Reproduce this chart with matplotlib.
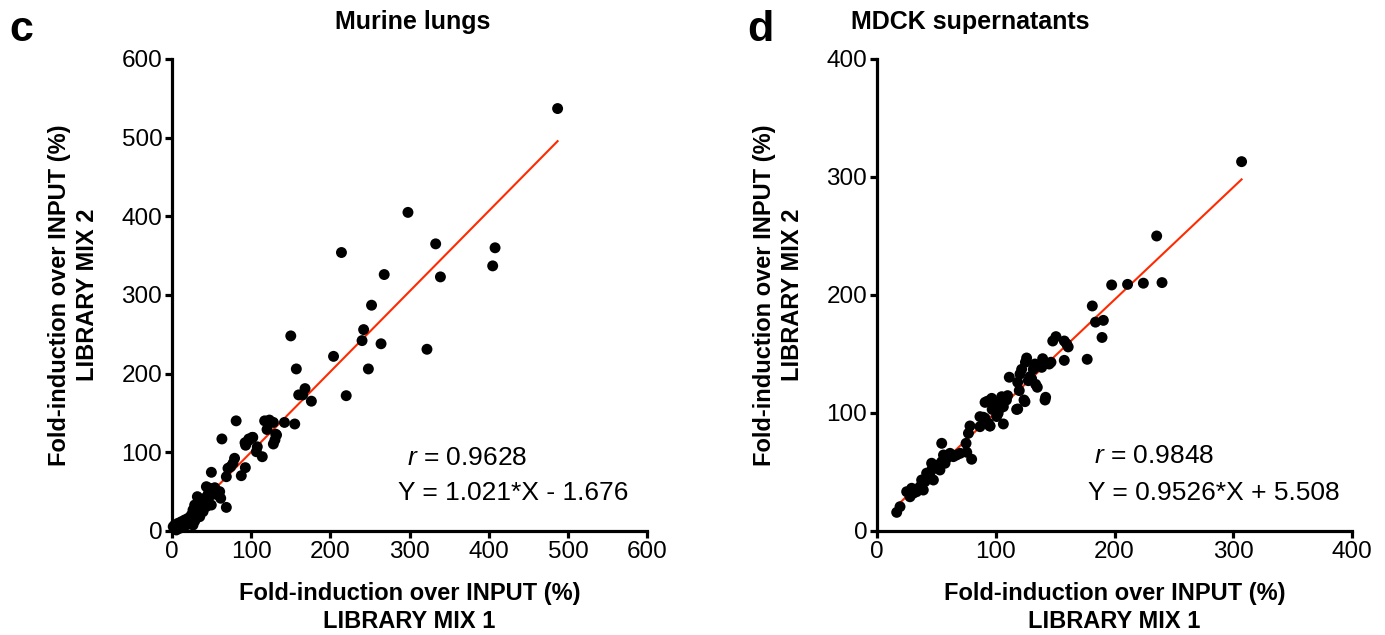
import numpy as np
import matplotlib
matplotlib.use("Agg")
import matplotlib.pyplot as plt

plt.rcParams['font.family'] = ['Liberation Sans', 'DejaVu Sans']
plt.rcParams['mathtext.fontset'] = 'custom'
plt.rcParams['mathtext.it'] = 'Liberation Sans:italic'
plt.rcParams['mathtext.rm'] = 'Liberation Sans'

# panel c - murine lungs (library mix 1 vs library mix 2)
lung_x = [487, 298, 214, 333, 408, 405, 339, 268, 252, 242, 240, 264, 322, 248, 204,
          150, 157, 168, 160, 165, 176, 220, 81, 117, 123, 128, 120, 142, 155, 132,
          63, 97, 102, 131, 93, 106.5, 114, 107.7, 79, 77, 70.7, 74, 68.6, 92.6, 87.5,
          49.7, 43.4, 47.6, 54, 60.2, 58, 61.5, 68.6, 32, 37, 41.3, 45.5, 49.6,
          28.6, 32.8, 37, 26.5, 30.7, 35, 39.2, 43.3, 49.6, 45.5,
          24.4, 20.2, 16, 11.8, 7.6, 3.4, 1.5, 22.4, 26.5, 28.7, 13.9, 18, 9.7, 5.4,
          101.5, 96.4, 92.2, 130, 128]
lung_y = [537, 405, 354, 365, 360, 337, 323, 326, 287, 256, 242, 238, 231, 206, 222,
          248, 206, 181, 173, 173, 165, 172, 140, 140, 141, 138, 129, 138, 136, 122,
          117, 117, 119, 123, 109, 100.8, 94.4, 107, 92.4, 86, 79.7, 81.7, 69, 80.5, 70.3,
          74.6, 56.3, 54.3, 55, 50, 45.8, 41.6, 30, 43.6, 39.4, 41.6, 46.6, 45.8,
          33, 29, 31, 26.7, 22.5, 18.2, 24.6, 31, 33, 37.2,
          20.3, 16.1, 14, 11.8, 9.8, 7.6, 5.5, 9.8, 7.6, 12.7, 5.5, 7.6, 3.4, 1.3,
          119, 114.8, 112.2, 115.7, 110.6]
lung_slope, lung_icpt = 1.021, -1.676

# panel d - MDCK supernatants
mdck_x = [307, 235.5, 240, 197.6, 211, 224.3, 181.3, 184, 190.6, 189.5, 177, 157.7, 148,
          150.7, 157.7, 159.7, 161, 146.5, 145, 139.5, 138.7, 126, 125, 133, 131.6, 121.8,
          120.4, 128.8, 130.2, 127.4, 133.6, 135, 111.4, 118.5, 119.8, 123.8, 142, 110,
          105, 96.6, 91, 98, 102, 99.4, 103.6, 106.4, 102, 100.8, 118.5, 106.4, 89.5, 95,
          86.7, 16.6, 19.4, 25, 29.2, 27.8, 30.6, 33.4, 36.2, 37.6, 40.4, 39, 41.8, 44.6,
          46, 47.5, 46, 48.8, 51.7, 53, 54.5, 57.3, 58.7, 61.5, 64.3, 54.5, 56, 67, 70,
          75, 75.6, 79.7, 77, 78.3, 86.7, 91, 93.8, 95.2, 117.6, 124.6, 141.5, 93, 109, 97]
mdck_y = [313, 250, 210.5, 208.5, 209, 210, 190.7, 177, 178.5, 164, 145.5, 144.6, 161,
          164.7, 161, 158.5, 156, 143, 141.5, 146, 138.7, 146.6, 143, 141.5, 137, 137,
          133, 130.8, 129, 127.4, 124.3, 121.8, 130.3, 126, 119, 111, 113.3, 114.7,
          113.8, 112.4, 109, 108.7, 108.2, 104.5, 104, 105.3, 99.7, 97, 103.4, 90.7, 96.4, 89,
          88.4, 15.8, 20.6, 33.3, 36.2, 29, 32, 33.3, 37.5, 43.2, 41.8, 34.7, 49, 46.6,
          51.7, 43.2, 57.4, 54.5, 56, 51.7, 58.7, 57.4, 61.6, 65.8, 63, 74.3, 64.4, 64.4, 65.8,
          74.3, 66.7, 60.8, 82.8, 89, 96.9, 95.5, 91.3, 89, 103, 109.6, 111, 110, 111, 103]
mdck_slope, mdck_icpt = 0.9526, 5.508

xlabel = "Fold-induction over INPUT (%)\nLIBRARY MIX 1"
ylabel = "Fold-induction over INPUT (%)\nLIBRARY MIX 2"

fig = plt.figure(figsize=(13.85, 6.35), dpi=100)
ax1 = fig.add_axes([0.1242, 0.1638, 0.343, 0.7433])
ax2 = fig.add_axes([0.6332, 0.1638, 0.343, 0.7433])


def panel(ax, x, y, slope, icpt, lim, step, rtxt, eqtxt, rpos, eqpos):
    x = np.array(x)
    y = np.array(y)
    ax.scatter(x, y, s=62, c='black', edgecolors='none', zorder=3, clip_on=False)
    xl = np.array([x.min(), x.max()])
    ax.plot(xl, slope * xl + icpt, color='#ff2a00', lw=1.5, zorder=2)
    ax.set_xlim(0, lim)
    ax.set_ylim(0, lim)
    ax.set_xticks(np.arange(0, lim + 1, step))
    ax.set_yticks(np.arange(0, lim + 1, step))
    for s in ['top', 'right']:
        ax.spines[s].set_visible(False)
    for s in ['left', 'bottom']:
        ax.spines[s].set_linewidth(2.3)
    ax.tick_params(width=2.3, length=5, labelsize=17.5, pad=2)
    ax.set_xlabel(xlabel, fontsize=17, fontweight='bold', labelpad=14, linespacing=1.25)
    ax.set_ylabel(ylabel, fontsize=17, fontweight='bold', labelpad=16, linespacing=1.3)
    ax.text(rpos[0], rpos[1], rtxt, fontsize=19, ha='left', va='center')
    ax.text(eqpos[0], eqpos[1], eqtxt, fontsize=19, ha='left', va='center')


panel(ax1, lung_x, lung_y, lung_slope, lung_icpt, 600, 100,
      r"$r$ = 0.9628", "Y = 1.021*X - 1.676", (297, 93), (285, 48))
panel(ax2, mdck_x, mdck_y, mdck_slope, mdck_icpt, 400, 100,
      r"$r$ = 0.9848", "Y = 0.9526*X + 5.508", (183, 63.5), (178, 32))

fig.text(413 / 1385, 0.965, "Murine lungs", fontsize=18, fontweight='bold',
         ha='center', va='center')
fig.text(970 / 1385, 0.965, "MDCK supernatants", fontsize=18, fontweight='bold',
         ha='center', va='center')
fig.text(9 / 1385, 0.952, "c", fontsize=31, fontweight='bold', ha='left', va='center')
fig.text(747 / 1385, 0.952, "d", fontsize=31, fontweight='bold', ha='left', va='center')

fig.savefig("out.png", dpi=100)
